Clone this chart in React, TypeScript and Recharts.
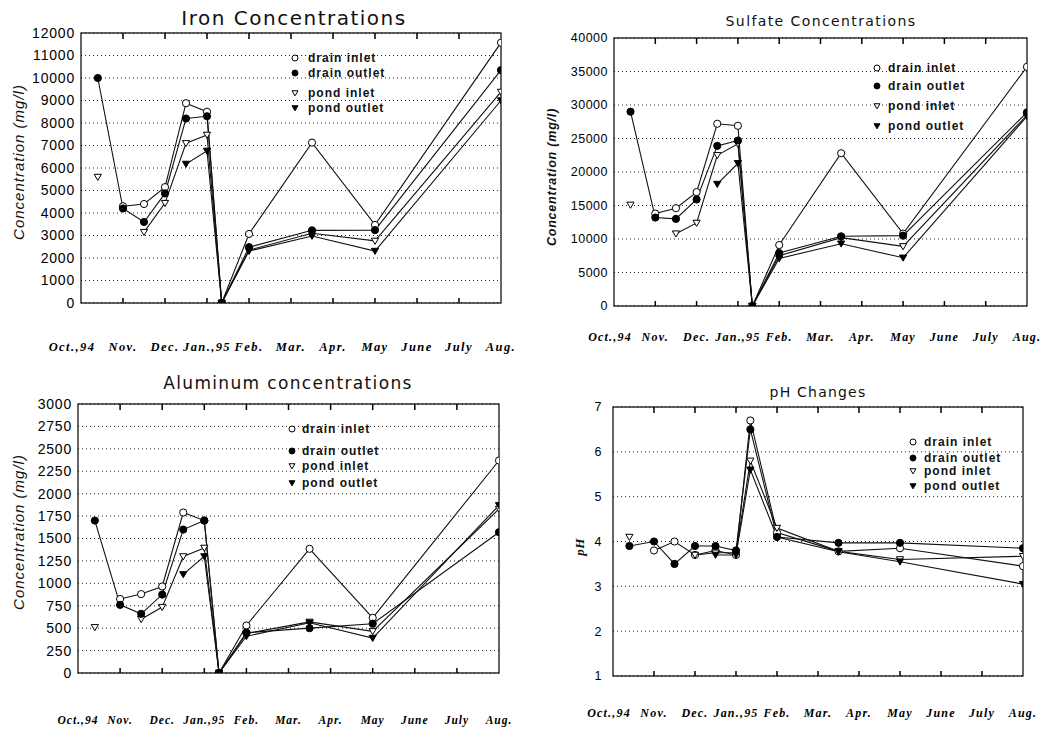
import { LineChart, Line, XAxis, YAxis, CartesianGrid, ReferenceArea } from 'recharts';

// month labels along the bottom of every panel
const monthLabels = ['Oct.,94', 'Nov.', 'Dec.', 'Jan.,95', 'Feb.', 'Mar.', 'Apr.', 'May', 'June', 'July', 'Aug.'];
// sampling dates, in months since Oct.,94
const sampleAt = [0.4, 1, 1.5, 2, 2.5, 3, 3.35, 4, 5.5, 7, 10];
const seriesNames = ['drain inlet', 'drain outlet', 'pond inlet', 'pond outlet'];

// Iron (mg/l)
const ironDrainInlet = [null, 4300, 4400, 5150, 8880, 8500, 0, 3070, 7130, 3470, 11570];
const ironDrainOutlet = [10000, 4200, 3600, 4870, 8200, 8300, 0, 2480, 3230, 3240, 10350];
const ironPondInlet = [5600, null, 3150, 4440, 7100, 7470, 0, 2350, 3100, 2760, 9380];
const ironPondOutlet = [null, null, null, null, 6180, 6760, 0, 2310, 2980, 2310, 9000];

// Sulfate (mg/l)
const sulfDrainInlet = [null, 13800, 14600, 17000, 27200, 26900, 0, 9100, 22800, 10800, 35700];
const sulfDrainOutlet = [29000, 13200, 13000, 15900, 23900, 24700, 0, 7900, 10400, 10500, 28900];
const sulfPondInlet = [15100, null, 10800, 12400, 22500, 24200, 0, 7500, 10200, 8900, 28500];
const sulfPondOutlet = [null, null, null, null, 18200, 21300, 0, 7100, 9300, 7200, 28300];

// Aluminum (mg/l)
const alDrainInlet = [null, 825, 880, 965, 1790, 1700, 0, 530, 1385, 615, 2370];
const alDrainOutlet = [1700, 760, 660, 875, 1600, 1700, 0, 450, 500, 550, 1570];
const alPondInlet = [510, null, 600, 735, 1300, 1395, 0, 440, 570, 465, 1830];
const alPondOutlet = [null, null, null, null, 1100, 1300, 0, 410, 560, 390, 1870];

// pH
const phDrainInlet = [null, 3.8, 4.0, 3.7, 3.8, 3.7, 6.7, 4.2, 3.78, 3.85, 3.45];
const phDrainOutlet = [3.9, 4.0, 3.5, 3.9, 3.9, 3.8, 6.5, 4.1, 3.97, 3.97, 3.85];
const phPondInlet = [4.1, null, null, 3.7, 3.75, 3.75, 5.8, 4.3, 3.78, 3.6, 3.67];
const phPondOutlet = [null, null, null, null, 3.7, 3.7, 5.6, 4.1, 3.77, 3.55, 3.05];

const ironTicks = [0, 1000, 2000, 3000, 4000, 5000, 6000, 7000, 8000, 9000, 10000, 11000, 12000];
const sulfTicks = [0, 5000, 10000, 15000, 20000, 25000, 30000, 35000, 40000];
const alTicks = [0, 250, 500, 750, 1000, 1250, 1500, 1750, 2000, 2250, 2500, 2750, 3000];
const phTicks = [1, 2, 3, 4, 5, 6, 7];

const monthTicks = monthLabels.map((_, i) => i);
const innerMonths = monthTicks.slice(1, -1);
const lastMonth = monthTicks.length - 1;

const buildRows = (di: any[], dout: any[], pin: any[], pout: any[]) =>
  sampleAt.map((x, i) => ({ x, drainInlet: di[i], drainOutlet: dout[i], pondInlet: pin[i], pondOutlet: pout[i] }));

// draw order: open circles first so the filled drain outlet sits on top at the zero point
const seriesDefs = [
  { key: 'drainInlet', kind: 'openCircle' },
  { key: 'pondInlet', kind: 'openTri' },
  { key: 'pondOutlet', kind: 'fillTri' },
  { key: 'drainOutlet', kind: 'fillCircle' },
];
const legendKinds = ['openCircle', 'fillCircle', 'openTri', 'fillTri'];

function Marker({ kind, cx, cy, s = 3.6 }: any) {
  if (cx == null || cy == null || Number.isNaN(cx) || Number.isNaN(cy)) return null;
  if (kind === 'openCircle' || kind === 'fillCircle') {
    return (
      <circle cx={cx} cy={cy} r={s} fill={kind === 'fillCircle' ? '#000' : '#fff'} stroke="#000" strokeWidth={1} />
    );
  }
  const pts = `${cx - s},${cy - s * 0.75} ${cx + s},${cy - s * 0.75} ${cx},${cy + s * 0.95}`;
  return <polygon points={pts} fill={kind === 'fillTri' ? '#000' : '#fff'} stroke="#000" strokeWidth={1} />;
}

const dotFor = (kind: string) => (p: any) => {
  const k = `${kind}-${p.index}`;
  if (p.value == null || p.cy == null) return <g key={k} />;
  return <Marker key={k} kind={kind} cx={p.cx} cy={p.cy} />;
};

// frame around the plot with short inward month ticks on the top and bottom edges
function Frame({ x, y, width, height }: any) {
  return (
    <g>
      <rect x={x} y={y} width={width} height={height} fill="none" stroke="#000" strokeWidth={1.2} />
      {innerMonths.map((m) => {
        const tx = x + (width * m) / lastMonth;
        return (
          <g key={m}>
            <line x1={tx} x2={tx} y1={y + height} y2={y + height - 5} stroke="#000" strokeWidth={1.5} />
            <line x1={tx} x2={tx} y1={y} y2={y + 6} stroke="#000" strokeWidth={1.5} />
          </g>
        );
      })}
    </g>
  );
}

function MonthTick({ x, payload, bottom, gap, shift0, font }: any) {
  const i = payload.value;
  return (
    <text
      x={x + (i === 0 ? shift0 : 0)}
      y={bottom + gap + 4}
      textAnchor="middle"
      fill="#000"
      style={{
        fontFamily: '"Liberation Serif", serif',
        fontStyle: 'italic',
        fontWeight: 'bold',
        fontSize: font[0],
        letterSpacing: font[1],
      }}
    >
      {monthLabels[i]}
    </text>
  );
}

interface PanelProps {
  box: { x: number; y: number; w: number; h: number };
  plot: { l: number; t: number; r: number; b: number };
  rows: any[];
  yDomain: [number, number];
  yTicks: number[];
  yFont: number;
  yLs: number;
  yGap: number;
  labelGap: number;
  labelFont: [number, number];
  shift0: number;
  title: { text: string; x: number; y: number; size: number; ls: number };
  yLabel: { text: string; x: number; y: number; size: number; ls: number; bold?: boolean; serif?: boolean };
  legend: { mx: number; tx: number; rows: number[] };
}

function Panel(props: PanelProps) {
  const { box, plot, rows, yDomain, yTicks, yFont, yLs, yGap, labelGap, labelFont, shift0, title, yLabel, legend } = props;
  const yAxisW = 60;
  const xAxisH = 50;
  const margin = {
    left: plot.l - box.x - yAxisW,
    top: plot.t - box.y,
    right: box.x + box.w - plot.r,
    bottom: box.y + box.h - plot.b - xAxisH,
  };
  return (
    <div style={{ position: 'absolute', left: box.x, top: box.y, width: box.w, height: box.h }}>
      <LineChart width={box.w} height={box.h} data={rows} margin={margin}>
        <CartesianGrid vertical={false} stroke="#222" strokeDasharray="1 3" />
        <XAxis
          dataKey="x"
          type="number"
          domain={[0, lastMonth]}
          ticks={monthTicks}
          interval={0}
          allowDataOverflow
          axisLine={false}
          tickLine={false}
          tickSize={0}
          height={xAxisH}
          tick={<MonthTick bottom={plot.b - box.y} gap={labelGap} shift0={shift0} font={labelFont} />}
        />
        <YAxis
          type="number"
          domain={yDomain}
          ticks={yTicks}
          interval={0}
          allowDataOverflow
          axisLine={false}
          tickLine={false}
          tickSize={0}
          tickMargin={yGap}
          width={yAxisW}
          tick={{ fill: '#000', fontFamily: '"Liberation Sans", sans-serif', fontSize: yFont, letterSpacing: yLs }}
        />
        <ReferenceArea
          x1={0}
          x2={lastMonth}
          y1={yDomain[0]}
          y2={yDomain[1]}
          ifOverflow="visible"
          shape={<Frame />}
        />
        {seriesDefs.map((s) => (
          <Line
            key={s.key}
            type="linear"
            dataKey={s.key}
            stroke="#111"
            strokeWidth={1.1}
            dot={dotFor(s.kind)}
            activeDot={false}
            connectNulls={false}
            isAnimationActive={false}
          />
        ))}
      </LineChart>

      <div
        style={{
          position: 'absolute',
          left: title.x - box.x,
          top: title.y - box.y,
          transform: 'translate(-50%, -50%)',
          whiteSpace: 'nowrap',
          fontFamily: '"DejaVu Sans", sans-serif',
          fontSize: title.size,
          letterSpacing: title.ls,
          color: '#111',
        }}
      >
        {title.text}
      </div>

      <div
        style={{
          position: 'absolute',
          left: yLabel.x - box.x,
          top: yLabel.y - box.y,
          transform: 'translate(-50%, -50%) rotate(-90deg)',
          whiteSpace: 'nowrap',
          fontFamily: yLabel.serif ? '"Liberation Serif", serif' : '"Liberation Sans", sans-serif',
          fontStyle: 'italic',
          fontWeight: yLabel.bold ? 'bold' : 'normal',
          fontSize: yLabel.size,
          letterSpacing: yLabel.ls,
          color: '#111',
        }}
      >
        {yLabel.text}
      </div>

      {seriesNames.map((name, i) => (
        <div key={name}>
          <svg
            width={12}
            height={12}
            style={{ position: 'absolute', left: legend.mx - box.x - 6, top: legend.rows[i] - box.y - 6 }}
          >
            <Marker kind={legendKinds[i]} cx={6} cy={6} s={3} />
          </svg>
          <div
            style={{
              position: 'absolute',
              left: legend.tx - box.x,
              top: legend.rows[i] - box.y,
              transform: 'translateY(-50%)',
              whiteSpace: 'nowrap',
              fontFamily: '"Liberation Sans", sans-serif',
              fontWeight: 'bold',
              fontSize: 12,
              letterSpacing: 1,
              color: '#111',
            }}
          >
            {name}
          </div>
        </div>
      ))}
    </div>
  );
}

export default function App() {
  return (
    <div style={{ position: 'absolute', left: 0, top: 0, width: 1051, height: 729, background: '#fff', overflow: 'hidden' }}>
      <Panel
        box={{ x: 0, y: 0, w: 520, h: 360 }}
        plot={{ l: 81, t: 33, r: 501, b: 303 }}
        rows={buildRows(ironDrainInlet, ironDrainOutlet, ironPondInlet, ironPondOutlet)}
        yDomain={[0, 12000]}
        yTicks={ironTicks}
        yFont={14}
        yLs={0.8}
        yGap={6}
        labelGap={44}
        labelFont={[12.5, 1.4]}
        shift0={-9}
        title={{ text: 'Iron Concentrations', x: 294, y: 18, size: 20, ls: 1.5 }}
        yLabel={{ text: 'Concentration (mg/l)', x: 18, y: 162, size: 15, ls: 1 }}
        legend={{ mx: 295, tx: 308, rows: [58, 73, 93, 108] }}
      />
      <Panel
        box={{ x: 520, y: 0, w: 531, h: 360 }}
        plot={{ l: 614, t: 38, r: 1027, b: 306 }}
        rows={buildRows(sulfDrainInlet, sulfDrainOutlet, sulfPondInlet, sulfPondOutlet)}
        yDomain={[0, 40000]}
        yTicks={sulfTicks}
        yFont={12.5}
        yLs={0.5}
        yGap={6}
        labelGap={31}
        labelFont={[12, 1.2]}
        shift0={-4}
        title={{ text: 'Sulfate Concentrations', x: 821, y: 21, size: 14, ls: 1.4 }}
        yLabel={{ text: 'Concentration (mg/l)', x: 552, y: 177, size: 12.5, ls: 0.8, bold: true }}
        legend={{ mx: 877, tx: 888, rows: [68, 86, 106, 126] }}
      />
      <Panel
        box={{ x: 0, y: 360, w: 520, h: 369 }}
        plot={{ l: 78, t: 404, r: 499, b: 673 }}
        rows={buildRows(alDrainInlet, alDrainOutlet, alPondInlet, alPondOutlet)}
        yDomain={[0, 3000]}
        yTicks={alTicks}
        yFont={14}
        yLs={0.8}
        yGap={6}
        labelGap={47}
        labelFont={[11.5, 1]}
        shift0={0}
        title={{ text: 'Aluminum concentrations', x: 288, y: 383, size: 17, ls: 1.35 }}
        yLabel={{ text: 'Concentration (mg/l)', x: 18, y: 532, size: 15, ls: 1 }}
        legend={{ mx: 292, tx: 302, rows: [429, 451, 466, 483] }}
      />
      <Panel
        box={{ x: 520, y: 360, w: 531, h: 369 }}
        plot={{ l: 613, t: 407, r: 1023, b: 676 }}
        rows={buildRows(phDrainInlet, phDrainOutlet, phPondInlet, phPondOutlet)}
        yDomain={[1, 7]}
        yTicks={phTicks}
        yFont={12.5}
        yLs={0.5}
        yGap={11}
        labelGap={37}
        labelFont={[12, 1.2]}
        shift0={-4}
        title={{ text: 'pH Changes', x: 818, y: 392, size: 14, ls: 1.2 }}
        yLabel={{ text: 'pH', x: 580, y: 547, size: 13, ls: 0.5, bold: true, serif: true }}
        legend={{ mx: 913, tx: 924, rows: [442, 458, 471, 486] }}
      />
    </div>
  );
}
